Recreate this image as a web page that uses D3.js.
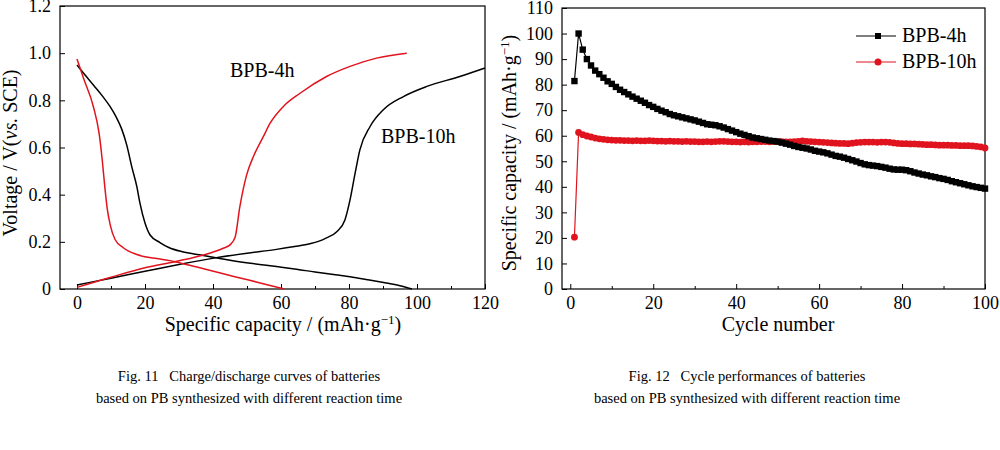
<!DOCTYPE html>
<html>
<head>
<meta charset="utf-8">
<script src="https://cdn.jsdelivr.net/npm/d3@7"></script>
<style>
  html, body { margin: 0; padding: 0; background: #fff; }
  svg text { font-family: "Liberation Serif", "Times New Roman", serif; fill: #000; }
</style>
</head>
<body>
<svg id="chart" width="1000" height="450"></svg>
<script>
// ---------- Fig. 11 data (charge / discharge curves) ----------
const dis10hX = [0, 2.5, 5, 7.5, 9.7, 11.5, 13.1, 14.6, 16.1, 17.6, 18.5, 20, 21.5, 24.4, 27, 31, 36, 40, 45, 51, 58.7, 64, 70, 76, 80.3, 86, 91, 95, 98.5];
const dis10hY = [0.95, 0.905, 0.862, 0.818, 0.774, 0.73, 0.68, 0.612, 0.519, 0.434, 0.365, 0.28, 0.229, 0.197, 0.176, 0.158, 0.145, 0.135, 0.122, 0.109, 0.095, 0.085, 0.072, 0.06, 0.052, 0.038, 0.025, 0.014, 0];
const chg10hX = [0, 10, 20, 30, 41, 50, 58.7, 64, 68.5, 71, 73.4, 76.4, 78.8, 80.3, 81.8, 83.2, 86.2, 90.1, 96, 102.9, 112.6, 120];
const chg10hY = [0.017, 0.046, 0.075, 0.104, 0.133, 0.152, 0.168, 0.18, 0.192, 0.202, 0.217, 0.243, 0.293, 0.378, 0.491, 0.59, 0.689, 0.76, 0.816, 0.859, 0.901, 0.937];
const dis4hX = [0, 2, 4.8, 6.5, 7.4, 8.2, 8.9, 9.8, 11.2, 13.6, 17.6, 24.4, 28.8, 35, 41, 47, 53, 58, 61];
const dis4hY = [0.975, 0.89, 0.774, 0.66, 0.55, 0.43, 0.34, 0.27, 0.21, 0.175, 0.146, 0.127, 0.116, 0.094, 0.072, 0.05, 0.029, 0.011, 0];
const chg4hX = [0, 10, 20, 28.8, 37.2, 43, 45, 46.5, 47.9, 49.9, 51.9, 54.8, 56.8, 60.7, 65.6, 73.4, 80.3, 88.1, 97];
const chg4hY = [0.007, 0.05, 0.09, 0.116, 0.144, 0.173, 0.187, 0.219, 0.349, 0.484, 0.562, 0.646, 0.703, 0.774, 0.83, 0.901, 0.944, 0.979, 1.0];
const fig11XTicks = [0, 20, 40, 60, 80, 100, 120];
const fig11XMinor = [10, 30, 50, 70, 90, 110];
const fig11YTicks = [0, 0.2, 0.4, 0.6, 0.8, 1.0, 1.2];

// ---------- Fig. 12 data (cycle performance) ----------
const cycles = d3.range(1, 101);
const cap4h = [81.4, 100.0, 93.7, 90.0, 87.5, 85.5, 84.1, 82.7, 81.3, 80.3,
  79.1, 78.0, 77.1, 76.2, 75.3, 74.5, 73.7, 72.9, 72.0, 71.3,
  70.5, 69.8, 69.2, 68.5, 68.0, 67.6, 67.2, 66.8, 66.4, 66.0,
  65.5, 65.0, 64.5, 64.3, 64.1, 63.7, 63.2, 62.6, 62.0, 61.4,
  60.8, 60.3, 59.8, 59.3, 59.0, 58.7, 58.4, 58.1, 57.9, 57.7,
  57.3, 56.9, 56.5, 56.0, 55.6, 55.3, 55.0, 54.6, 54.1, 53.8,
  53.5, 53.1, 52.6, 52.1, 51.8, 51.4, 50.9, 50.4, 49.9, 49.3,
  48.8, 48.5, 48.3, 48.1, 47.8, 47.5, 47.1, 46.8, 46.7, 46.7,
  46.5, 46.1, 45.6, 45.2, 44.8, 44.5, 44.1, 43.8, 43.4, 43.1,
  42.7, 42.2, 41.8, 41.4, 41.0, 40.6, 40.2, 39.9, 39.6, 39.3];
const cap10h = [20.3, 61.3, 60.4, 59.9, 59.5, 59.1, 58.8, 58.6, 58.4, 58.3,
  58.2, 58.2, 58.1, 58.1, 58.0, 58.1, 58.0, 58.0, 58.1, 58.0,
  57.9, 57.9, 57.8, 57.9, 57.8, 57.8, 57.7, 57.8, 57.7, 57.7,
  57.6, 57.6, 57.7, 57.6, 57.7, 57.8, 57.8, 57.7, 57.6, 57.6,
  57.5, 57.6, 57.5, 57.6, 57.6, 57.7, 57.7, 57.6, 57.7, 57.7,
  57.7, 57.6, 57.6, 57.7, 57.8, 58.0, 57.8, 57.7, 57.6, 57.5,
  57.4, 57.3, 57.2, 57.1, 57.0, 57.0, 56.9, 57.1, 57.3, 57.4,
  57.5, 57.5, 57.5, 57.4, 57.5, 57.5, 57.4, 57.2, 57.0, 56.9,
  56.9, 56.8, 56.8, 56.7, 56.6, 56.5, 56.5, 56.4, 56.3, 56.3,
  56.3, 56.2, 56.2, 56.1, 56.1, 56.1, 56.0, 55.8, 55.6, 55.2];
const fig12XTicks = [0, 20, 40, 60, 80, 100];
const fig12XMinor = [10, 30, 50, 70, 90];
const fig12YTicks = [0, 10, 20, 30, 40, 50, 60, 70, 80, 90, 100, 110];
const seriesNames = ["BPB-4h", "BPB-10h"];

const FONT = "Liberation Serif, Times New Roman, serif";
const BLACK = "#000";
const RED = "#e0141e";
const svg = d3.select("#chart");

function frameAxes(g, x, y, xTicks, xMinor, yTicks, yFmt) {
  const [x0, x1] = x.range();
  const [y0, y1] = y.range();
  g.append("g").attr("transform", `translate(0,${y0})`)
    .call(d3.axisBottom(x).tickValues(xTicks).tickSizeInner(-5).tickSizeOuter(0).tickPadding(7).tickFormat(d3.format("d")))
    .call(a => a.select(".domain").remove())
    .call(a => a.selectAll("text").attr("font-size", 18).attr("font-family", FONT));
  g.append("g").attr("transform", `translate(0,${y0})`)
    .call(d3.axisBottom(x).tickValues(xMinor).tickSizeInner(-3).tickSizeOuter(0).tickFormat(""))
    .call(a => a.select(".domain").remove());
  g.append("g").attr("transform", `translate(${x0},0)`)
    .call(d3.axisLeft(y).tickValues(yTicks).tickSizeInner(-5).tickSizeOuter(0).tickPadding(9).tickFormat(yFmt))
    .call(a => a.select(".domain").remove())
    .call(a => a.selectAll("text").attr("font-size", 18).attr("font-family", FONT));
  g.selectAll(".tick line").attr("stroke", "#000").attr("stroke-width", 1);
  g.append("rect").attr("x", x0).attr("y", y1).attr("width", x1 - x0).attr("height", y0 - y1)
    .attr("fill", "none").attr("stroke", "#000").attr("stroke-width", 1.2);
}

// ---------------- Fig. 11 ----------------
{
  const g = svg.append("g");
  const x = d3.scaleLinear().domain([-5, 120]).range([60, 485]);
  const y = d3.scaleLinear().domain([0, 1.2]).range([289, 6]);
  frameAxes(g, x, y, fig11XTicks, fig11XMinor, fig11YTicks, d => d === 0 ? "0" : d3.format(".1f")(d));

  const line = d3.line().x(d => x(d[0])).y(d => y(d[1])).curve(d3.curveMonotoneX);
  const curves = [
    { xs: dis10hX, ys: dis10hY, c: BLACK },
    { xs: chg10hX, ys: chg10hY, c: BLACK },
    { xs: dis4hX, ys: dis4hY, c: RED },
    { xs: chg4hX, ys: chg4hY, c: RED }
  ];
  curves.forEach(cv => {
    g.append("path").datum(cv.xs.map((v, i) => [v, cv.ys[i]]))
      .attr("d", line).attr("fill", "none").attr("stroke", cv.c).attr("stroke-width", 1.5);
  });

  g.append("text").attr("x", 230).attr("y", 77).attr("font-size", 20).attr("font-family", FONT).text(seriesNames[0]);
  g.append("text").attr("x", 381).attr("y", 143).attr("font-size", 20).attr("font-family", FONT).text(seriesNames[1]);

  const xt = g.append("text").attr("x", 283).attr("y", 331).attr("text-anchor", "middle").attr("font-size", 20).attr("font-family", FONT);
  xt.append("tspan").text("Specific capacity / (mAh·g");
  xt.append("tspan").attr("dy", -7).attr("font-size", 13).text("−1");
  xt.append("tspan").attr("dy", 7).text(")");

  const yt = g.append("text").attr("transform", "translate(17,153) rotate(-90)").attr("text-anchor", "middle").attr("font-size", 20).attr("font-family", FONT);
  yt.append("tspan").text("Voltage / V(");
  yt.append("tspan").attr("font-style", "italic").text("vs.");
  yt.append("tspan").text(" SCE)");
}

// ---------------- Fig. 12 ----------------
{
  const g = svg.append("g");
  const x = d3.scaleLinear().domain([-2, 100]).range([562, 985]);
  const y = d3.scaleLinear().domain([0, 110]).range([289, 8]);
  frameAxes(g, x, y, fig12XTicks, fig12XMinor, fig12YTicks, d3.format("d"));

  const line = d3.line().x(d => x(d[0])).y(d => y(d[1]));
  const d4 = cycles.map((c, i) => [c, cap4h[i]]);
  const d10 = cycles.map((c, i) => [c, cap10h[i]]);

  g.append("path").datum(d10).attr("d", line).attr("fill", "none").attr("stroke", RED).attr("stroke-width", 1.2);
  g.selectAll(".pt10").data(d10).join("circle").attr("class", "pt10")
    .attr("cx", d => x(d[0])).attr("cy", d => y(d[1])).attr("r", 3.4).attr("fill", RED);

  g.append("path").datum(d4).attr("d", line).attr("fill", "none").attr("stroke", BLACK).attr("stroke-width", 1.2);
  g.selectAll(".pt4").data(d4).join("rect").attr("class", "pt4")
    .attr("x", d => x(d[0]) - 3.2).attr("y", d => y(d[1]) - 3.2).attr("width", 6.4).attr("height", 6.4).attr("fill", BLACK);

  // legend
  const leg = [
    { name: seriesNames[0], c: BLACK, shape: "square", yy: 36 },
    { name: seriesNames[1], c: RED, shape: "circle", yy: 62 }
  ];
  leg.forEach(l => {
    g.append("line").attr("x1", 856).attr("x2", 896).attr("y1", l.yy).attr("y2", l.yy).attr("stroke", l.c).attr("stroke-width", 1.2);
    if (l.shape === "square") {
      g.append("rect").attr("x", 875).attr("y", l.yy - 3).attr("width", 6).attr("height", 6).attr("fill", l.c);
    } else {
      g.append("circle").attr("cx", 878).attr("cy", l.yy).attr("r", 3.5).attr("fill", l.c);
    }
    g.append("text").attr("x", 902).attr("y", l.yy + 6).attr("font-size", 20).attr("font-family", FONT).text(l.name);
  });

  g.append("text").attr("x", 778).attr("y", 331).attr("text-anchor", "middle").attr("font-size", 20).attr("font-family", FONT).text("Cycle number");

  const yt = g.append("text").attr("transform", "translate(516,153) rotate(-90)").attr("text-anchor", "middle").attr("font-size", 20).attr("font-family", FONT);
  yt.append("tspan").text("Specific capacity / (mAh·g");
  yt.append("tspan").attr("dy", -7).attr("font-size", 13).text("−1");
  yt.append("tspan").attr("dy", 7).text(")");
}

// ---------------- captions ----------------
const captions = [
  { cx: 249, lines: ["Fig. 11   Charge/discharge curves of batteries", "based on PB synthesized with different reaction time"] },
  { cx: 747, lines: ["Fig. 12   Cycle performances of batteries", "based on PB synthesized with different reaction time"] }
];
captions.forEach(cp => {
  cp.lines.forEach((t, i) => {
    svg.append("text").attr("x", cp.cx).attr("y", 381 + i * 22).attr("text-anchor", "middle")
      .attr("font-size", 14.5).attr("font-family", FONT).style("white-space", "pre").text(t);
  });
});
</script>
</body>
</html>
